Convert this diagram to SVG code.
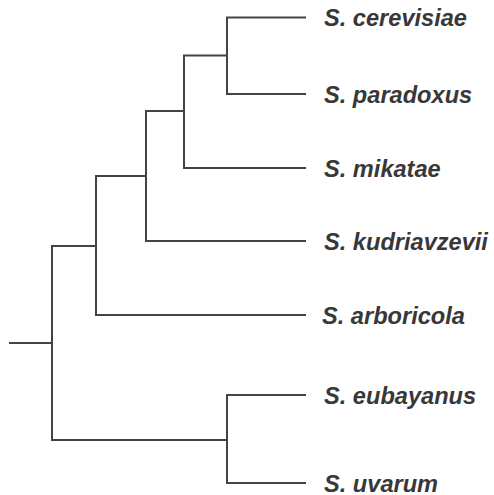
<svg xmlns="http://www.w3.org/2000/svg" width="494" height="495" viewBox="0 0 494 495">
<style>
.e{fill:none;stroke:#444;stroke-width:2;stroke-linecap:square;stroke-linejoin:miter}
.t{font-family:"Liberation Sans",Arial,sans-serif;font-size:23.6px;font-weight:bold;font-style:italic;fill:#383838}
</style>
<rect width="494" height="495" fill="#fff"/>
<g id="connectors">
<path class="e" d="M305,17.5 H227 V94 H305"/>
<path class="e" d="M227,55.5 H184 V168 H305"/>
<path class="e" d="M184,111 H146 V241 H305"/>
<path class="e" d="M146,176 H96 V315 H305"/>
<path class="e" d="M96,246 H52 V440 H227"/>
<path class="e" d="M305,395 H227 V483 H305"/>
<path class="e" d="M10,343 H52"/>
</g>
<g id="n-cerevisiae"><text class="t" x="324" y="26">S. cerevisiae</text></g>
<g id="n-paradoxus"><text class="t" x="324" y="102.5">S. paradoxus</text></g>
<g id="n-mikatae"><text class="t" x="324" y="176.5">S. mikatae</text></g>
<g id="n-kudriavzevii"><text class="t" x="324" y="249.5">S. kudriavzevii</text></g>
<g id="n-arboricola"><text class="t" x="322" y="323.5">S. arboricola</text></g>
<g id="n-eubayanus"><text class="t" x="324" y="403.5">S. eubayanus</text></g>
<g id="n-uvarum"><text class="t" x="324" y="491.5">S. uvarum</text></g>
</svg>
